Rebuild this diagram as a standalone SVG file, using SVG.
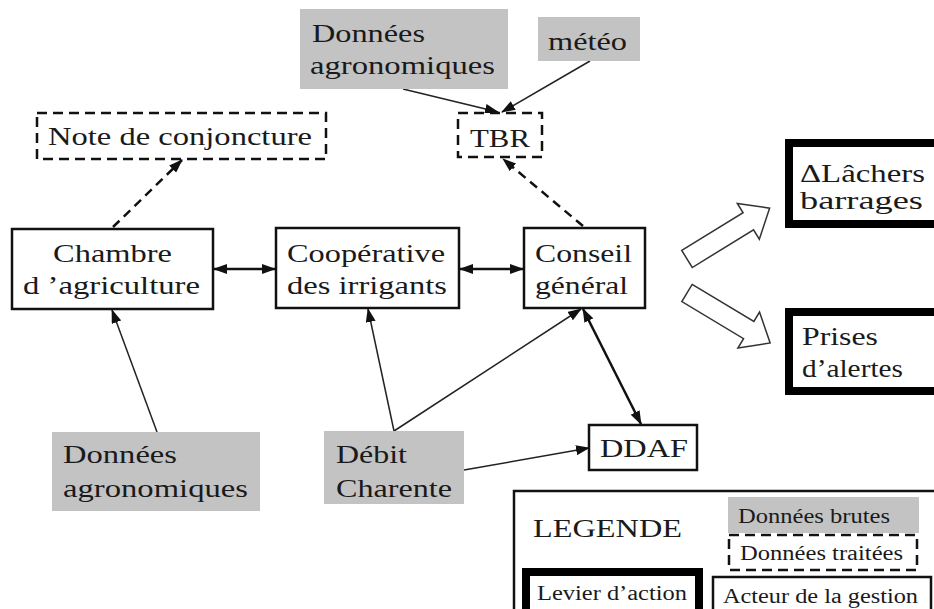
<svg xmlns="http://www.w3.org/2000/svg" width="934" height="609" viewBox="0 0 934 609">
<defs>
<marker id="ah" markerWidth="14" markerHeight="10" refX="13" refY="5" orient="auto" markerUnits="userSpaceOnUse"><path d="M0,0 L14,5 L0,10 Z" fill="#111"/></marker>
<marker id="ahs" markerWidth="14" markerHeight="10" refX="1" refY="5" orient="auto" markerUnits="userSpaceOnUse"><path d="M14,0 L0,5 L14,10 Z" fill="#111"/></marker>
<style>
text{font-family:'Liberation Serif','Times New Roman',Tinos,'Noto Serif','DejaVu Serif',FreeSerif,'Nimbus Roman','Nimbus Roman No9 L',Times,Georgia,serif;font-size:26px;fill:#1a1a1a}
.raw{fill:#c3c3c3;stroke:none}
.proc{fill:#fff;stroke:#111;stroke-width:2.5;stroke-dasharray:10 6}
.act{fill:#fff;stroke:#111;stroke-width:2.5}
.lev{fill:#fff;stroke:#000;stroke-width:8}
.c{fill:none;stroke:#222;stroke-width:1.5}
.cb{fill:none;stroke:#111;stroke-width:2.5}
.cd{fill:none;stroke:#111;stroke-width:2.5;stroke-dasharray:9 6}
.sm{font-size:20px}
.hol{fill:#fff;stroke:#333;stroke-width:1.5}
</style>
</defs>
<g id="connectors">
<line class="cd" x1="113" y1="227" x2="182" y2="160" marker-end="url(#ah)"/>
<line class="cd" x1="583" y1="226" x2="503" y2="159" marker-end="url(#ah)"/>
<line class="c" x1="403" y1="89" x2="498" y2="112" marker-end="url(#ah)"/>
<line class="c" x1="590" y1="61" x2="502" y2="112" marker-end="url(#ah)"/>
<line class="cb" x1="214" y1="269" x2="275" y2="269" marker-start="url(#ahs)" marker-end="url(#ah)"/>
<line class="cb" x1="460" y1="269" x2="523" y2="269" marker-start="url(#ahs)" marker-end="url(#ah)"/>
<line class="cb" x1="583" y1="309" x2="641" y2="424" marker-start="url(#ahs)" marker-end="url(#ah)"/>
<line class="c" x1="394" y1="431" x2="368" y2="309" marker-end="url(#ah)"/>
<line class="c" x1="394" y1="431" x2="581" y2="309" marker-end="url(#ah)"/>
<line class="c" x1="464" y1="470" x2="589" y2="448" marker-end="url(#ah)"/>
<line class="c" x1="157" y1="432" x2="112" y2="310" marker-end="url(#ah)"/>
<polygon class="hol" transform="translate(687,259) rotate(-31.6)" points="0,-10 72,-10 72,-21 97,0 72,21 72,10 0,10"/>
<polygon class="hol" transform="translate(687,293) rotate(31)" points="0,-10 72,-10 72,-21 97,0 72,21 72,10 0,10"/>
</g>
<g id="donnees-agro-top"><rect class="raw" x="300" y="9" width="208" height="80"/>
<text x="312" y="42" textLength="113" lengthAdjust="spacingAndGlyphs">Données</text>
<text x="310" y="74" textLength="185" lengthAdjust="spacingAndGlyphs">agronomiques</text></g>
<g id="meteo"><rect class="raw" x="538" y="17" width="102" height="44"/>
<text x="548" y="50" textLength="79" lengthAdjust="spacingAndGlyphs">météo</text></g>
<g id="tbr"><rect class="proc" x="458" y="113" width="84" height="44"/>
<text x="470" y="147" textLength="60" lengthAdjust="spacingAndGlyphs">TBR</text></g>
<g id="note"><rect class="proc" x="37" y="113" width="289" height="46"/>
<text x="48" y="145" textLength="264" lengthAdjust="spacingAndGlyphs">Note de conjoncture</text></g>
<g id="chambre"><rect class="act" x="12" y="229" width="201" height="80"/>
<text x="53" y="262" textLength="119" lengthAdjust="spacingAndGlyphs">Chambre</text>
<text x="23" y="294" textLength="177" lengthAdjust="spacingAndGlyphs">d ’agriculture</text></g>
<g id="cooperative"><rect class="act" x="276" y="228" width="183" height="80"/>
<text x="287" y="262" textLength="158" lengthAdjust="spacingAndGlyphs">Coopérative</text>
<text x="287" y="294" textLength="160" lengthAdjust="spacingAndGlyphs">des irrigants</text></g>
<g id="conseil"><rect class="act" x="524" y="228" width="121" height="80"/>
<text x="535" y="262" textLength="97" lengthAdjust="spacingAndGlyphs">Conseil</text>
<text x="535" y="294" textLength="93" lengthAdjust="spacingAndGlyphs">général</text></g>
<g id="ddaf"><rect class="act" x="589" y="425" width="108" height="45"/>
<text x="600" y="457" textLength="88" lengthAdjust="spacingAndGlyphs">DDAF</text></g>
<g id="debit"><rect class="raw" x="324" y="431" width="140" height="73"/>
<text x="336" y="463" textLength="71" lengthAdjust="spacingAndGlyphs">Débit</text>
<text x="336" y="497" textLength="116" lengthAdjust="spacingAndGlyphs">Charente</text></g>
<g id="donnees-agro-bottom"><rect class="raw" x="52" y="432" width="208" height="79"/>
<text x="63" y="463" textLength="114" lengthAdjust="spacingAndGlyphs">Données</text>
<text x="63" y="497" textLength="185" lengthAdjust="spacingAndGlyphs">agronomiques</text></g>
<g id="lachers"><rect class="lev" x="789" y="143" width="160" height="81"/>
<text x="800" y="182" textLength="125" lengthAdjust="spacingAndGlyphs">ΔLâchers</text>
<text x="800" y="209" textLength="123" lengthAdjust="spacingAndGlyphs">barrages</text></g>
<g id="prises"><rect class="lev" x="789" y="312" width="160" height="79"/>
<text x="802" y="345" textLength="76" lengthAdjust="spacingAndGlyphs">Prises</text>
<text x="802" y="377" textLength="101" lengthAdjust="spacingAndGlyphs">d’alertes</text></g>
<g id="legende">
<rect x="514" y="491" width="440" height="140" fill="#fff" stroke="#111" stroke-width="2.5"/>
<text x="533" y="537" textLength="149" lengthAdjust="spacingAndGlyphs">LEGENDE</text>
<rect class="raw" x="728" y="497" width="191" height="36"/>
<text class="sm" x="738" y="523" textLength="152" lengthAdjust="spacingAndGlyphs">Données brutes</text>
<rect class="proc" x="729" y="535" width="188" height="35"/>
<text class="sm" x="740" y="560" textLength="163" lengthAdjust="spacingAndGlyphs">Données traitées</text>
<rect class="lev" x="526" y="572" width="173" height="60"/>
<text class="sm" x="537" y="600" textLength="150" lengthAdjust="spacingAndGlyphs">Levier d’action</text>
<rect class="act" x="713" y="577" width="218" height="50"/>
<text class="sm" x="723" y="603" textLength="195" lengthAdjust="spacingAndGlyphs">Acteur de la gestion</text>
</g>
</svg>
